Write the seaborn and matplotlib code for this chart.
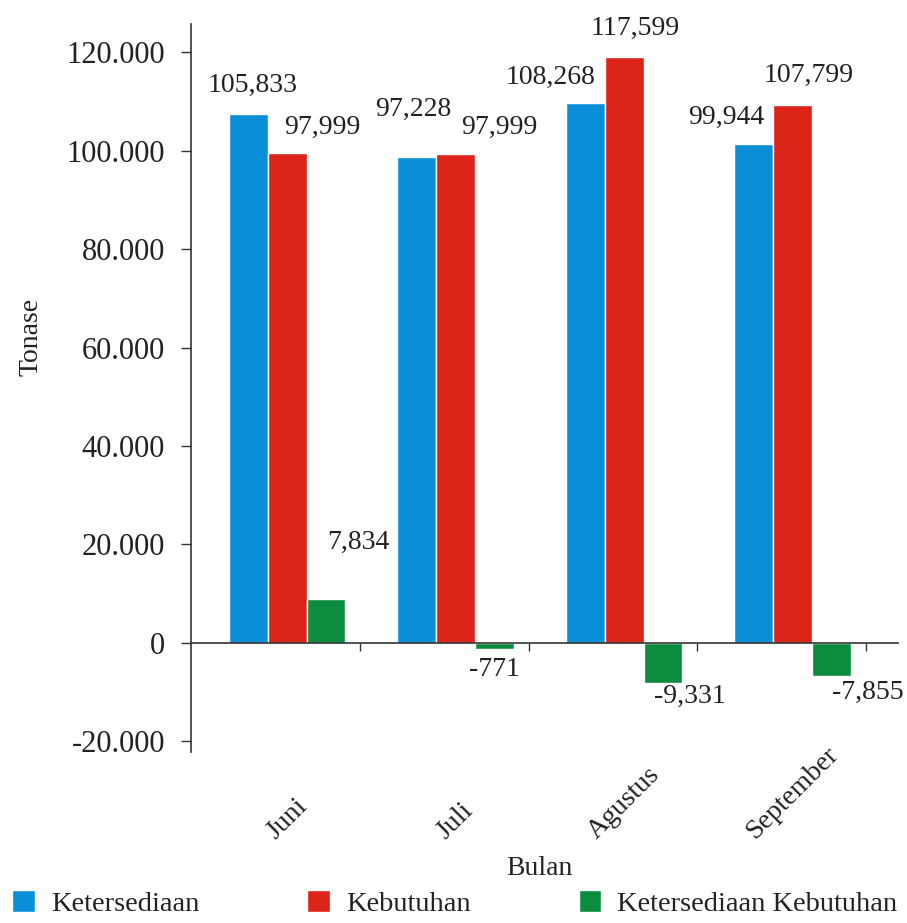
import matplotlib
matplotlib.use("Agg")
import matplotlib.pyplot as plt
import matplotlib.ticker as mticker
import seaborn as sns
import pandas as pd

# Data (tinggi batang, label dari teks pada gambar)
bulan = ["Juni", "Juli", "Agustus", "September"]
seri = ["Ketersediaan", "Kebutuhan", "Ketersediaan Kebutuhan"]
ketersediaan = [107350, 98620, 109700, 101260]
kebutuhan = [99430, 99290, 119050, 109240]
selisih = [8930, -1280, -8180, -6640]
label_ketersediaan = ["105,833", "97,228", "108,268", "99,944"]
label_kebutuhan = ["97,999", "97,999", "117,599", "107,799"]
label_selisih = ["7,834", "-771", "-9,331", "-7,855"]
y_ticks = [-20000, 0, 20000, 40000, 60000, 80000, 100000, 120000]

warna = ["#0A8ED8", "#DC2418", "#0C8C3E"]

df = pd.DataFrame({
    "Bulan": bulan * 3,
    "Seri": [s for s in seri for _ in bulan],
    "Nilai": ketersediaan + kebutuhan + selisih,
})

sns.set_style("white")
plt.rcParams['font.family'] = ['Liberation Serif', 'DejaVu Serif']

fig = plt.figure(figsize=(9.07, 9.23), dpi=100)
ax = fig.add_axes([0.2111, 0.1853, 0.7790, 0.7887])

sns.barplot(data=df, x="Bulan", y="Nilai", hue="Seri", order=bulan, hue_order=seri,
            palette=warna, saturation=1, width=0.694, errorbar=None, ax=ax)

# posisi label (offset piksel dari ujung batang)
offsets = [
    [(5, 29), (-3, 48), (-34, 25), (-27, 27)],
    [(35, 26), (44, 27), (11, 28), (16, 30)],
    [(32, 57), (0, -20), (27, -13), (36, -17)],
]
labels = [label_ketersediaan, label_kebutuhan, label_selisih]
for cont, lbls, offs in zip(ax.containers, labels, offsets):
    for bar, teks, (dx, dy) in zip(cont, lbls, offs):
        x = bar.get_x() + bar.get_width() / 2
        y = bar.get_y() + bar.get_height()
        ax.annotate(teks, xy=(x, y), xytext=(dx, dy), textcoords="offset pixels",
                    ha="center", va="center", fontsize=20, color="#222222")

ax.set_xlim(-0.567, 3.626)
ax.set_ylim(-22130, 125690)

# sumbu
for s in ["top", "right"]:
    ax.spines[s].set_visible(False)
ax.spines["bottom"].set_position(("data", 0))
for s in ["left", "bottom"]:
    ax.spines[s].set_color("#333333")
    ax.spines[s].set_linewidth(1.2)

ax.set_yticks(y_ticks)
ax.yaxis.set_major_formatter(mticker.FuncFormatter(lambda v, p: f"{int(v):,}".replace(",", ".")))
ax.tick_params(axis="y", direction="out", length=7, width=1, color="#333333",
               pad=12, labelsize=22, labelcolor="#222222", left=True)

ax.set_xticks(range(len(bulan)))
ax.set_xticklabels(bulan, rotation=45, ha="center", va="bottom")
ax.set_xticks([k + 0.435 for k in range(len(bulan))], minor=True)
ax.tick_params(axis="x", which="major", length=0, pad=145, labelsize=20, labelcolor="#222222")
ax.tick_params(axis="x", which="minor", direction="out", length=6, width=1,
               color="#333333", bottom=True)

ax.set_xlabel("Bulan", fontsize=20, color="#222222")
ax.set_ylabel("Tonase", fontsize=20, color="#222222")
ax.xaxis.set_label_coords(0.493, -0.143)
ax.yaxis.set_label_coords(-0.209, 0.57)

# legenda di bawah
handles, _ = ax.get_legend_handles_labels()
ax.get_legend().remove()
fig.legend(handles, seri, loc="lower left", bbox_to_anchor=(-0.002, -0.009), ncol=3,
           frameon=False, fontsize=20.5, handlelength=0.8, handleheight=0.8,
           handletextpad=0.55, columnspacing=3.8, borderpad=0, labelcolor="#222222")

fig.savefig("out.png", dpi=100)
